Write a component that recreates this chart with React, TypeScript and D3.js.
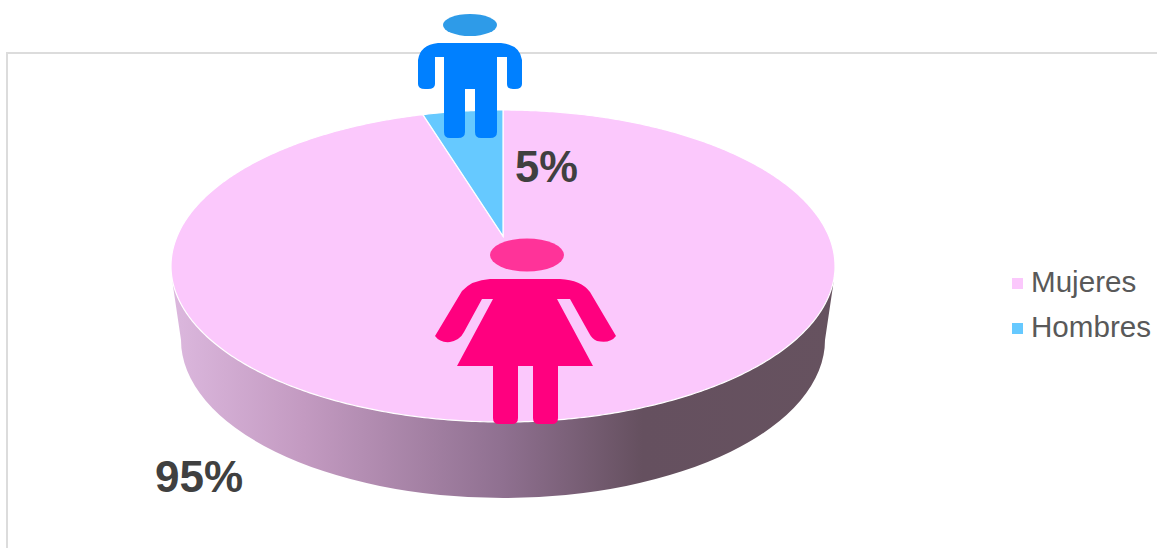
import React from "react"
import * as d3 from "d3"

const categories = ["Mujeres", "Hombres"]
const values = [95.3, 4.7]
const valueLabels = ["95%", "5%"]
const sliceColors = ["#fbc8fc", "#66c9ff"]

const width = 1157
const height = 548

// top face of the pie, seen in perspective
const cx = 503
const cy = 266
const rx = 332
const ry = 156
const perspective = 0.192

// bottom rim of the wall
const baseCy = 340
const baseRx = 322
const baseRy = 158

const wallStops = [
    { offset: 0, color: "#dcb8de" },
    { offset: 0.2, color: "#c39ac1" },
    { offset: 0.5, color: "#8f7090" },
    { offset: 0.71, color: "#65505f" },
    { offset: 1, color: "#66525f" },
]

// unit circle -> picture, the pie centre ends up above the ellipse centre
function project(u: number, v: number): [number, number] {
    const k = perspective
    const d = 1 - k * v
    return [cx + (rx * u * Math.sqrt(1 - k * k)) / d, cy + (ry * (v - k)) / d]
}

function sliceOutline(start: number, end: number) {
    const steps = Math.max(2, Math.ceil((end - start) / 0.01))
    const pts: [number, number][] = [project(0, 0)]
    d3.range(steps + 1).forEach((i) => {
        const a = start + ((end - start) * i) / steps
        pts.push(project(Math.sin(a), -Math.cos(a)))
    })
    return d3.line().curve(d3.curveLinearClosed)(pts) as string
}

function wallPath() {
    return (
        `M${cx - rx},${cy}L${cx - rx + 2},${cy + 20}L${cx - baseRx},${baseCy}` +
        `A${baseRx},${baseRy} 0 0 0 ${cx + baseRx},${baseCy}` +
        `L${cx + rx - 2},${cy + 20}L${cx + rx},${cy}Z`
    )
}

const man =
    "M438,43 L501,43 Q520,45 522,60 L522,84 Q522,89 515,89 L513,89 Q507,89 507,84 L507,57 L497,57 L497,132 Q497,138 490,138 L481,138 Q475,138 475,132 L475,89 L465,89 L465,132 Q465,138 458,138 L450,138 Q444,138 444,132 L444,57 L435,57 L435,84 Q435,89 428,89 L425,89 Q418,89 418,84 L418,60 Q420,45 438,43 Z"

const woman =
    "M490,279 L560,279 Q581,280 590,292 L616,336 Q610,344 597,341 Q592,339 589,333 L570,299 L557,299 L593,366 L558,366 L558,418 Q558,424 552,424 L539,424 Q533,424 533,418 L533,366 L518,366 L518,418 Q518,424 512,424 L499,424 Q493,424 493,418 L493,366 L457,366 L493,299 L482,299 L464,332 Q460,340 450,342 Q440,343 435,336 L462,291 Q472,280 490,279 Z"

export default function App() {
    const slices = d3.pie<number>().sort(null).startAngle(0)(values)
    const color = d3.scaleOrdinal<string, string>().domain(categories).range(sliceColors)
    const legendY = d3.scalePoint<string>().domain(categories).range([283, 328])

    return (
        <svg
            width={width}
            height={height}
            viewBox={`0 0 ${width} ${height}`}
            style={{ position: "absolute", left: 0, top: 0, background: "#fff" }}
            fontFamily="'Liberation Sans', Arial, sans-serif"
        >
            <defs>
                <linearGradient id="wall" gradientUnits="userSpaceOnUse" x1={cx - rx} x2={cx + rx} y1={0} y2={0}>
                    {wallStops.map((s) => (
                        <stop key={s.offset} offset={s.offset} stopColor={s.color} />
                    ))}
                </linearGradient>
            </defs>

            <rect x={7} y={53} width={width} height={height} fill="none" stroke="#dcdcdc" strokeWidth={2} />

            <path d={wallPath()} fill="url(#wall)" />
            {slices.map((s, i) => (
                <path
                    key={categories[i]}
                    d={sliceOutline(s.startAngle, s.endAngle)}
                    fill={color(categories[i])}
                    stroke="#fff"
                    strokeWidth={1.2}
                />
            ))}

            <ellipse cx={470} cy={25} rx={27} ry={11} fill="#2e9be8" />
            <path d={man} fill="#0080ff" />
            <ellipse cx={527} cy={255} rx={37} ry={16.5} fill="#ff3399" />
            <path d={woman} fill="#ff007f" />

            <text x={155} y={492} fontSize={44} fontWeight="bold" fill="#404040">{valueLabels[0]}</text>
            <text x={515} y={182} fontSize={43.5} fontWeight="bold" fill="#404040">{valueLabels[1]}</text>

            {categories.map((c) => (
                <g key={c}>
                    <rect x={1012} y={(legendY(c) as number) - 5} width={11} height={11} fill={color(c)} />
                    <text x={1031} y={(legendY(c) as number) + 9} fontSize={29.6} fill="#595959">{c}</text>
                </g>
            ))}
        </svg>
    )
}
